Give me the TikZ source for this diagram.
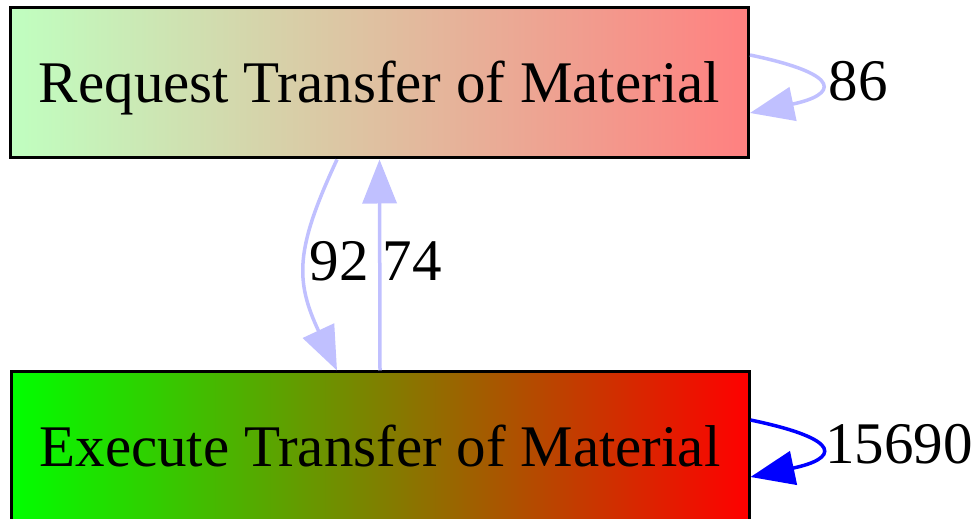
\documentclass[tikz,border=0pt]{standalone}
\usepackage{fontspec}
\setmainfont{Liberation Serif}
\usetikzlibrary{arrows.meta}

\definecolor{paleblue}{HTML}{C0C0FF}
\definecolor{paleleft}{HTML}{C0FFC0}
\definecolor{paleright}{HTML}{FF8080}

\begin{document}
\begin{tikzpicture}[
        x=1pt, y=1pt,
        state/.style={draw, line width=3pt, minimum width=738pt, minimum height=150pt, inner sep=0pt,
            font=\fontsize{59}{70}\selectfont, text height=39pt, text depth=0pt},
        lbl/.style={font=\fontsize{59}{70}\selectfont, inner sep=0pt},
        arr/.style={-{Triangle[length=44pt, width=34pt]}, line width=3.5pt, draw=paleblue},
        hot/.style={arr, draw=blue}
    ]
        \useasboundingbox (0,0) rectangle (974,519);

        % Activities
        \node[state, left color=paleleft, right color=paleright] (request) at (379.5, 436) {Request Transfer of Material};
        \node[state, left color=green, right color=red] (execute) at (380, 72) {Execute Transfer of Material};

        % Self loops
        \draw[arr] ([yshift=28pt]request.east) .. controls +(96,-20) and +(86,18) .. ([yshift=-30pt]request.east);
        \node[lbl] (loopreq) at (858, 438) {86};
        \draw[hot] ([yshift=27pt]execute.east) .. controls +(96,-20) and +(86,18) .. ([yshift=-30pt]execute.east);
        \node[lbl] (loopexe) at (899, 75) {15690};

        % Between the two
        \draw[arr] ([xshift=-42.5pt]request.south) .. controls +(-42,-90) and +(-42,90) .. ([xshift=-43pt]execute.north);
        \node[lbl] (down) at (339, 258) {92};
        \draw[arr] (execute.north) -- (request.south);
        \node[lbl] (up) at (412, 258) {74};
    \end{tikzpicture}
\end{document}
